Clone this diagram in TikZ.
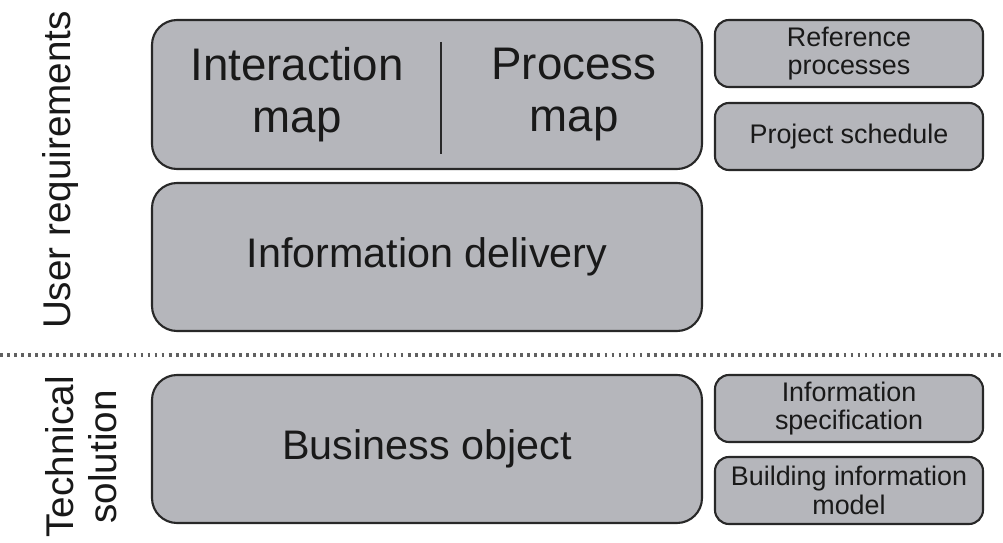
\documentclass[tikz,border=0pt]{standalone}
\usepackage{fontspec}
\setmainfont{Liberation Sans}
\usepackage{tikz}
\usetikzlibrary{shapes,positioning}
\definecolor{boxgray}{RGB}{181,182,187}
\definecolor{edgegray}{RGB}{40,40,40}
\tikzstyle{bigblock} = [rectangle, draw=edgegray, line width=1.2pt, fill=boxgray,
    minimum width=11cm, minimum height=2.96cm, rounded corners=0.5cm,
    text=black!90, font=\fontsize{23.5pt}{27pt}\selectfont]
\tikzstyle{smallblock} = [rectangle, draw=edgegray, line width=1.2pt, fill=boxgray,
    minimum width=5.36cm, minimum height=1.34cm, rounded corners=0.28cm,
    inner sep=1pt, align=center, text=black!90,
    font=\fontsize{15.3pt}{16.2pt}\selectfont]
\tikzstyle{maptext} = [align=center, text=black!90,
    font=\fontsize{26pt}{29.5pt}\selectfont]
\tikzstyle{sidelabel} = [rotate=90, align=center, text=black!90,
    font=\fontsize{22pt}{24.5pt}\selectfont]
\tikzstyle{separator} = [line width=2.4pt, gray!75!black,
    dash pattern=on 1.6pt off 2.4pt]

\begin{document}
\begin{tikzpicture}
  \useasboundingbox (0,0) rectangle (20.06,-10.86);
  % Place nodes
  \node [bigblock, minimum height=2.98cm] (maps) at (8.54,-1.89) {};
  \node [bigblock, below of=maps, node distance=3.25cm] (delivery)
  {Information delivery};
  \node [bigblock, below of=delivery, node distance=3.84cm] (business)
  {Business object};
  \node [smallblock, right of=maps, node distance=8.44cm, yshift=0.82cm] (refproc)
  {Reference\\processes};
  \node [smallblock, below of=refproc, node distance=1.66cm] (schedule)
  {Project schedule};
  \node [smallblock, right of=business, node distance=8.44cm, yshift=0.81cm] (infospec)
  {Information\\specification};
  \node [smallblock, below of=infospec, node distance=1.64cm] (bim)
  {Building information\\model};
  \node [maptext] (interaction) at (5.94,-1.89) {Interaction\\map};
  \node [maptext] (process) at (11.48,-1.89) {Process\\map};
  \node [sidelabel] (userreq) at (1.22,-3.40) {User requirements};
  \node [sidelabel] (techsol) at (1.63,-9.14) {Technical\\solution};
  % Draw lines
  \coordinate (divtop) at (8.82,-0.84);
  \coordinate (divbot) at (8.82,-3.08);
  \draw [edgegray, line width=1.1pt] (divtop) -- (divbot);
  \coordinate (sepleft) at (0,-7.10);
  \coordinate (sepright) at (20.06,-7.10);
  \draw [separator] (sepleft) -- (sepright);
\end{tikzpicture}
\end{document}
